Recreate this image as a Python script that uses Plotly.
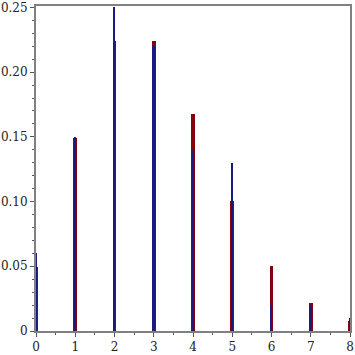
import plotly.graph_objects as go

x_vals = [0, 1, 2, 3, 4, 5, 6, 7, 8]
poisson_vals = [0.0498, 0.1494, 0.2240, 0.2240, 0.1680, 0.1008, 0.0504, 0.0216, 0.0081]
sample_vals = [0.06, 0.15, 0.25, 0.22, 0.14, 0.13, 0.02, 0.02, 0.01]
y_tick_vals = [0, 0.05, 0.10, 0.15, 0.20, 0.25]
y_tick_text = ["0", "0.05", "0.10", "0.15", "0.20", "0.25"]
x_tick_text = ["0", "1", "2", "3", "4", "5", "6", "7", "8"]

fig = go.Figure()
fig.add_trace(go.Bar(x=x_vals, y=poisson_vals, width=0.1,
                     marker=dict(color="#860010", line=dict(width=0)),
                     showlegend=False))
fig.add_trace(go.Bar(x=x_vals, y=sample_vals, width=0.05,
                     marker=dict(color="#1a1a80", line=dict(width=0)),
                     showlegend=False))

axis_common = dict(showgrid=False, zeroline=False, showline=True, linecolor="#808080",
                   linewidth=2, mirror=True, ticks="outside", tickcolor="#555555",
                   ticklen=4, tickwidth=1, ticklabeloverflow="allow",
                   tickfont=dict(family="DejaVu Serif", size=12, color="#222222"))

fig.update_layout(
    width=355, height=355,
    margin=dict(l=35, r=1, t=6, b=20),
    paper_bgcolor="white", plot_bgcolor="white",
    barmode="overlay", bargap=0,
    xaxis=dict(range=[0, 8], tickvals=x_vals, ticktext=x_tick_text,
               minor=dict(dtick=0.5, tick0=0, ticks="outside", ticklen=2, tickcolor="#555555"),
               **axis_common),
    yaxis=dict(range=[0, 0.2511], tickvals=y_tick_vals, ticktext=y_tick_text,
               minor=dict(dtick=0.01, tick0=0, ticks="outside", ticklen=2, tickcolor="#555555"),
               **axis_common),
)

fig.write_html("out.html")
